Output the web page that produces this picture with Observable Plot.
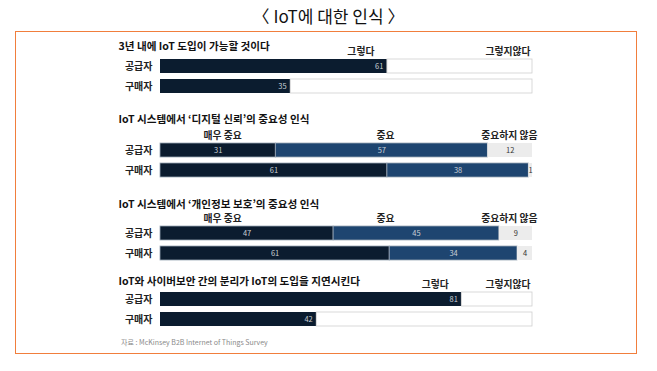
<!DOCTYPE html>
<html>
<head>
<meta charset="utf-8">
<script src="https://cdn.jsdelivr.net/npm/d3@7"></script>
<script src="https://cdn.jsdelivr.net/npm/@observablehq/plot@0.6"></script>
<style>
  html, body { margin: 0; padding: 0; background: #fff; }
  #page { position: relative; width: 657px; height: 371px; overflow: hidden; font-family: "Noto Sans CJK KR", "Noto Sans", sans-serif; }
  #title { position: absolute; left: 0; width: 657px; top: 3px; text-align: center; font-size: 17px; color: #111; }
  #box { position: absolute; left: 15px; top: 31px; width: 620px; height: 321px; border: 1.6px solid #f17e3c; pointer-events: none; }
  .chart { position: absolute; left: 0; }
  #source { position: absolute; left: 121px; top: 337px; font-size: 7px; color: #8a8a8a; }
</style>
</head>
<body>
<div id="page">
  <div id="title">〈 IoT에 대한 인식 〉</div>
  <div id="box"></div>
  <div id="source">자료 : McKinsey B2B Internet of Things Survey</div>
</div>
<script>
// ---- data ----
const respondents = ["공급자", "구매자"];
const groupTitles = [
  "3년 내에 IoT 도입이 가능할 것이다",
  "IoT 시스템에서 ‘디지털 신뢰’의 중요성 인식",
  "IoT 시스템에서 ‘개인정보 보호’의 중요성 인식",
  "IoT와 사이버보안 간의 분리가 IoT의 도입을 지연시킨다"
];
const yesNoLabels = ["그렇다", "그렇지않다"];
const importanceLabels = ["매우 중요", "중요", "중요하지 않음"];

const adoptionYes = [61, 35];
const adoptionNo = [39, 65];

const trustVery = [31, 61];
const trustImportant = [57, 38];
const trustNot = [12, 1];

const privacyVery = [47, 61];
const privacyImportant = [45, 34];
const privacyNot = [9, 4];

const separationYes = [81, 42];
const separationNo = [19, 58];

// ---- styling ----
const DARK = "#0b1c2f";
const BLUE = "#1e4570";
const LIGHT = "#ececec";

function buildRows(seriesList, labels) {
  const rows = [];
  respondents.forEach((r, i) => {
    seriesList.forEach((s, k) => rows.push({resp: r, cat: labels[k], k, value: s[i]}));
  });
  return rows;
}

const headerStyle = {frameAnchor: "top", lineAnchor: "middle", dy: -8, fontSize: 9.8, fontWeight: "bold", fill: "#222"};

function chart({title, kind, series, top, titleDy}) {
  const labels = kind === "yn" ? yesNoLabels : importanceLabels;
  const rows = buildRows(series, labels);
  const fills = kind === "yn" ? [DARK, "#ffffff"] : [DARK, BLUE, LIGHT];
  const strokes = kind === "yn" ? ["none", "#cfcfcf"] : ["#9aa7b5", "#9aa7b5", "none"];
  const stack = (o) => Plot.stackX({offset: "normalize", order: null}, o);
  const marks = [
    Plot.barX(rows, stack({x: "value", y: "resp", fill: d => fills[d.k], stroke: d => strokes[d.k], strokeWidth: 0.8})),
    Plot.text([title], {frameAnchor: "top-left", lineAnchor: "middle", text: d => d, dx: -42, dy: titleDy, textAnchor: "start", fontSize: 10.6, fontWeight: "bold", fill: "#111"})
  ];
  if (kind === "yn") {
    const yesRows = rows.filter(d => d.k === 0);
    marks.push(
      Plot.text(yesRows, {x: d => d.value / 100, y: "resp", text: d => String(d.value), textAnchor: "end", dx: -4, fontSize: 7.5, fill: "#c9cfd6"}),
      Plot.text([labels[0]], {...headerStyle, x: () => rows[0].value / 100, text: d => d, textAnchor: "end", dx: -13}),
      Plot.text([labels[1]], {...headerStyle, x: () => 1, text: d => d, textAnchor: "end", dx: -2})
    );
  } else {
    const darkRows = rows.filter(d => d.k < 2);
    marks.push(
      Plot.text(rows, stack({x: "value", y: "resp", text: d => String(d.value), fontSize: 7.5, fill: d => d.k === 2 ? "#333" : "#c9cfd6"})),
      Plot.text([labels[0]], {...headerStyle, x: () => 0.167, text: d => d, textAnchor: "middle"}),
      Plot.text([labels[1]], {...headerStyle, x: () => 0.605, text: d => d, textAnchor: "middle"}),
      Plot.text([labels[2]], {...headerStyle, x: () => 1, text: d => d, textAnchor: "end", dx: 5})
    );
  }
  marks.push(Plot.axisY({tickSize: 0, tickPadding: 8, fontSize: 10, fontWeight: "bold", label: null}));
  const svg = Plot.plot({
    width: 657,
    height: 66,
    marginLeft: 160,
    marginRight: 125,
    marginTop: 30,
    marginBottom: 2,
    style: {background: "transparent", fontFamily: "'Noto Sans CJK KR', 'Noto Sans', sans-serif", color: "#222", overflow: "visible"},
    x: {domain: [0, 1], axis: null},
    y: {domain: respondents, paddingInner: 0.3, paddingOuter: 0, label: null},
    marks
  });
  svg.classList.add("chart");
  svg.style.top = top + "px";
  return svg;
}

const page = document.getElementById("page");
const box = document.getElementById("box");
[
  {title: groupTitles[0], kind: "yn", series: [adoptionYes, adoptionNo], top: 29, titleDy: -13},
  {title: groupTitles[1], kind: "imp", series: [trustVery, trustImportant, trustNot], top: 113, titleDy: -24},
  {title: groupTitles[2], kind: "imp", series: [privacyVery, privacyImportant, privacyNot], top: 196, titleDy: -22},
  {title: groupTitles[3], kind: "yn", series: [separationYes, separationNo], top: 262, titleDy: -11}
].forEach(cfg => page.insertBefore(chart(cfg), box));
</script>
</body>
</html>
